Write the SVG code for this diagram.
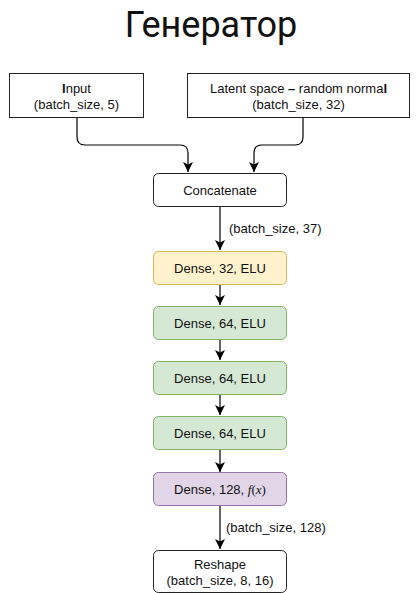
<svg xmlns="http://www.w3.org/2000/svg" width="420" height="593" viewBox="0 0 420 593">
<defs>
<marker id="arr" viewBox="0 0 10 10" refX="10" refY="5" markerWidth="10" markerHeight="10" markerUnits="userSpaceOnUse" orient="auto">
<path d="M0,0 L10,5 L0,10 L2.5,5 Z" fill="#000"/>
</marker>
<style>
.t{font-family:"Liberation Sans",Arial,sans-serif;font-size:13px;fill:#111;text-anchor:middle}
.l{font-family:"Liberation Sans",Arial,sans-serif;font-size:13px;fill:#111}
.c{fill:none;stroke:#000;stroke-width:1.2}
.plain{fill:#fff;stroke:#222;stroke-width:1}
.yel{fill:#fff2cc;stroke:#d6b656;stroke-width:1}
.grn{fill:#d5e8d4;stroke:#82b366;stroke-width:1}
.pur{fill:#e1d5e7;stroke:#9673a6;stroke-width:1}
</style>
</defs>
<text x="211" y="37" style="font-family:Roboto,'Noto Sans',sans-serif;font-size:36px;fill:#111;text-anchor:middle">Генератор</text>
<g id="connectors">
<path class="c" d="M77 118 V137 Q77 145 85 145 H180 Q188 145 188 153 V172" marker-end="url(#arr)"/>
<path class="c" d="M303 118 V137 Q303 145 295 145 H262 Q254 145 254 153 V172" marker-end="url(#arr)"/>
<path class="c" d="M220 207 V250" marker-end="url(#arr)"/>
<path class="c" d="M220 284 V305" marker-end="url(#arr)"/>
<path class="c" d="M220 339 V360" marker-end="url(#arr)"/>
<path class="c" d="M220 394 V415" marker-end="url(#arr)"/>
<path class="c" d="M220 449 V472" marker-end="url(#arr)"/>
<path class="c" d="M220 506 V549" marker-end="url(#arr)"/>
<text class="l" x="229" y="233">(batch_size, 37)</text>
<text class="l" x="226" y="532">(batch_size, 128)</text>
</g>
<g id="input">
<rect class="plain" x="9.5" y="73.5" width="134" height="44"/>
<text class="t" x="76.5" y="93"><tspan font-weight="bold">I</tspan>nput</text>
<text class="t" x="76.5" y="109">(batch_size, 5)</text>
</g>
<g id="latent">
<rect class="plain" x="187.5" y="73.5" width="222" height="44"/>
<text class="t" x="298.5" y="93">Latent space <tspan font-weight="bold">–</tspan> random norma<tspan font-weight="bold">l</tspan></text>
<text class="t" x="298.5" y="109">(batch_size, 32)</text>
</g>
<g id="concatenate">
<rect class="plain" x="153.5" y="173.5" width="133" height="33" rx="5"/>
<text class="t" x="220" y="195">Concatenate</text>
</g>
<g id="dense32">
<rect class="yel" x="153.5" y="251.5" width="133" height="33" rx="5"/>
<text class="t" x="220" y="273">Dense, 32, ELU</text>
</g>
<g id="dense64a">
<rect class="grn" x="153.5" y="306.5" width="133" height="33" rx="5"/>
<text class="t" x="220" y="328">Dense, 64, ELU</text>
</g>
<g id="dense64b">
<rect class="grn" x="153.5" y="361.5" width="133" height="33" rx="5"/>
<text class="t" x="220" y="383">Dense, 64, ELU</text>
</g>
<g id="dense64c">
<rect class="grn" x="153.5" y="416.5" width="133" height="33" rx="5"/>
<text class="t" x="220" y="438">Dense, 64, ELU</text>
</g>
<g id="dense128">
<rect class="pur" x="153.5" y="472.5" width="133" height="33" rx="5"/>
<text class="t" x="220" y="494">Dense, 128, <tspan style="font-family:'Liberation Serif','Times New Roman',serif;font-style:italic">f</tspan><tspan style="font-family:'Liberation Serif','Times New Roman',serif">(</tspan><tspan style="font-family:'Liberation Serif','Times New Roman',serif;font-style:italic">x</tspan><tspan style="font-family:'Liberation Serif','Times New Roman',serif">)</tspan></text>
</g>
<g id="reshape">
<rect class="plain" x="153.5" y="550.5" width="133" height="42" rx="5"/>
<text class="t" x="220" y="569">Reshape</text>
<text class="t" x="220" y="585">(batch_size, 8, 16)</text>
</g>
</svg>
